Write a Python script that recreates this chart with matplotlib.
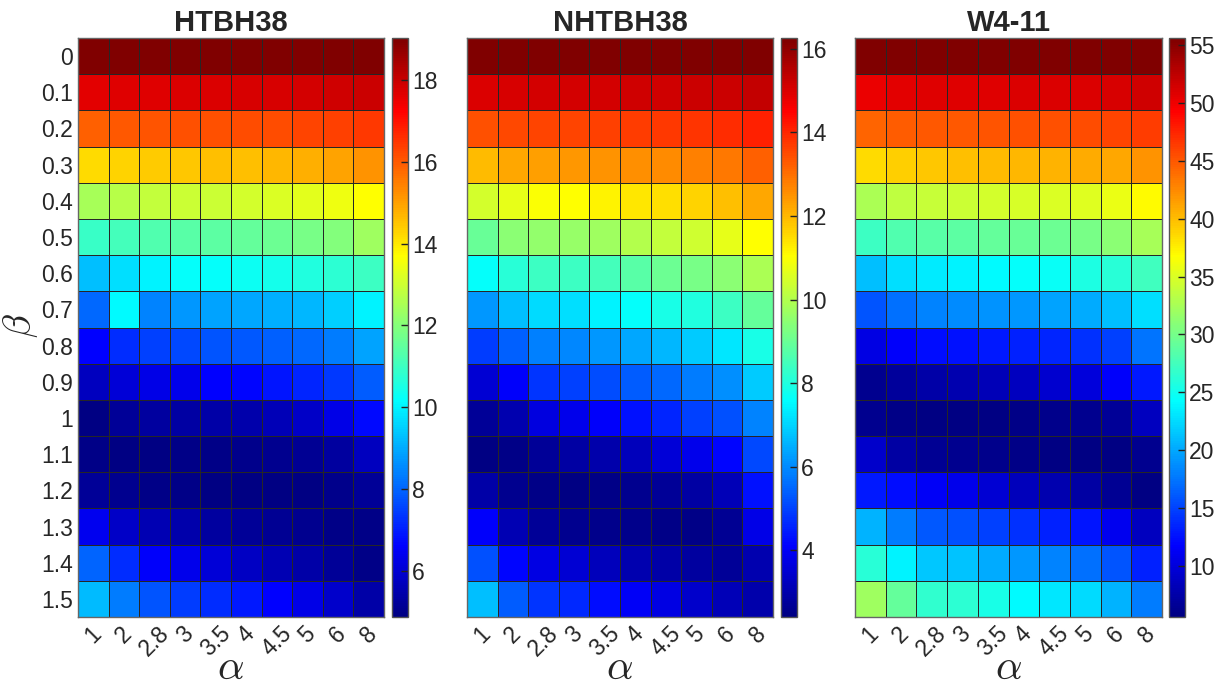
import numpy as np
import matplotlib
matplotlib.use("Agg")
import matplotlib.pyplot as plt
from matplotlib.colors import ListedColormap, Normalize

plt.rcParams['font.family'] = ['Liberation Sans', 'DejaVu Sans']
plt.rcParams['mathtext.fontset'] = 'cm'
TEXT = '#262626'

alpha_labels = ['1', '2', '2.8', '3', '3.5', '4', '4.5', '5', '6', '8']
beta_labels = ['0', '0.1', '0.2', '0.3', '0.4', '0.5', '0.6', '0.7',
               '0.8', '0.9', '1', '1.1', '1.2', '1.3', '1.4', '1.5']

htbh38 = [
    [19.0, 19.0, 19.0, 19.0, 19.0, 19.0, 19.0, 19.0, 19.0, 19.0],
    [17.6, 17.7, 17.7, 17.75, 17.75, 17.8, 17.8, 17.85, 17.9, 17.95],
    [15.9, 16.0, 16.05, 16.1, 16.15, 16.2, 16.2, 16.3, 16.35, 16.45],
    [14.2, 14.3, 14.4, 14.45, 14.55, 14.6, 14.7, 14.8, 14.95, 15.2],
    [12.5, 12.7, 12.85, 12.95, 13.0, 13.1, 13.2, 13.3, 13.45, 13.7],
    [10.95, 11.1, 11.25, 11.35, 11.45, 11.55, 11.65, 11.8, 12.0, 12.35],
    [9.27, 9.7, 9.97, 10.2, 10.2, 10.3, 10.45, 10.6, 10.75, 11.0],
    [8.03, 10.1, 8.44, 8.72, 8.86, 8.93, 9.07, 9.14, 9.5, 9.97],
    [6.64, 7.2, 7.47, 7.62, 7.76, 7.83, 7.96, 8.03, 8.3, 8.86],
    [5.74, 6.07, 6.29, 6.36, 6.6, 6.65, 6.9, 7.1, 7.4, 7.9],
    [4.9, 5.18, 5.3, 5.35, 5.4, 5.45, 5.6, 5.85, 6.3, 6.7],
    [4.95, 4.9, 4.92, 4.95, 4.97, 5.0, 5.05, 5.1, 5.3, 5.7],
    [5.2, 5.05, 4.98, 4.95, 4.92, 4.9, 4.9, 4.92, 5.0, 5.15],
    [6.4, 5.85, 5.55, 5.45, 5.3, 5.2, 5.1, 5.05, 4.98, 4.93],
    [8.0, 7.2, 6.55, 6.35, 6.05, 5.8, 5.55, 5.4, 5.2, 4.95],
    [9.2, 8.3, 7.75, 7.45, 7.2, 6.95, 6.6, 6.3, 5.9, 5.4],
]

nhtbh38 = [
    [16.26, 16.26, 16.26, 16.26, 16.26, 16.26, 16.26, 16.26, 16.26, 16.26],
    [15.0, 15.05, 15.1, 15.1, 15.12, 15.15, 15.17, 15.2, 15.22, 15.3],
    [13.4, 13.5, 13.6, 13.6, 13.65, 13.7, 13.75, 13.8, 13.9, 14.05],
    [11.95, 12.22, 12.35, 12.42, 12.5, 12.56, 12.6, 12.75, 12.85, 13.2],
    [10.45, 10.7, 11.0, 11.06, 11.2, 11.34, 11.48, 11.62, 11.88, 12.22],
    [8.96, 9.47, 9.6, 9.62, 9.75, 10.0, 10.2, 10.37, 10.7, 11.06],
    [7.6, 8.1, 8.36, 8.4, 8.5, 8.78, 9.03, 9.2, 9.45, 9.9],
    [6.17, 6.7, 7.1, 7.15, 7.4, 7.6, 7.87, 8.0, 8.36, 8.9],
    [4.9, 5.4, 5.85, 5.95, 6.15, 6.4, 6.6, 6.85, 7.25, 7.9],
    [3.5, 4.05, 4.83, 4.95, 5.15, 5.35, 5.5, 5.77, 6.05, 6.85],
    [2.7, 3.0, 3.65, 3.85, 4.05, 4.3, 4.6, 4.95, 5.2, 5.9],
    [2.42, 2.5, 2.7, 2.85, 2.95, 3.2, 3.55, 3.85, 4.15, 5.1],
    [2.9, 2.6, 2.5, 2.45, 2.48, 2.58, 2.7, 2.88, 3.15, 4.3],
    [4.05, 3.05, 2.7, 2.6, 2.55, 2.55, 2.5, 2.5, 2.65, 3.8],
    [5.2, 4.15, 3.7, 3.5, 3.2, 3.0, 2.9, 2.8, 2.72, 3.0],
    [6.7, 5.35, 4.8, 4.65, 4.25, 4.0, 3.7, 3.4, 3.15, 2.95],
]

w4_11 = [
    [55.6, 55.6, 55.6, 55.6, 55.6, 55.6, 55.6, 55.6, 55.6, 55.6],
    [50.2, 50.6, 50.8, 50.8, 50.9, 51.0, 51.0, 51.1, 51.3, 51.6],
    [44.45, 44.7, 45.0, 45.0, 45.1, 45.3, 45.4, 45.6, 45.9, 46.4],
    [38.6, 39.05, 39.5, 39.8, 40.0, 40.3, 40.5, 40.8, 41.0, 42.0],
    [32.6, 33.6, 34.1, 34.3, 34.6, 34.8, 35.0, 35.2, 35.85, 36.85],
    [27.1, 28.1, 28.6, 28.8, 29.1, 29.3, 29.5, 30.1, 31.1, 32.4],
    [21.1, 22.6, 23.35, 23.6, 24.1, 24.35, 24.7, 25.6, 26.2, 27.4],
    [15.8, 17.3, 18.2, 18.5, 19.0, 19.2, 19.7, 20.2, 21.1, 22.6],
    [10.4, 11.5, 12.4, 12.5, 12.9, 13.3, 13.5, 14.0, 14.8, 17.5],
    [6.2, 6.9, 7.5, 7.8, 8.2, 8.7, 9.4, 10.0, 11.5, 13.0],
    [6.2, 5.8, 5.75, 5.65, 5.7, 5.9, 6.0, 6.2, 6.7, 8.7],
    [9.2, 7.3, 6.5, 6.3, 6.0, 5.9, 5.75, 5.65, 5.6, 6.3],
    [13.0, 12.3, 11.3, 10.8, 9.6, 8.5, 7.8, 7.2, 6.4, 5.7],
    [20.5, 17.8, 16.0, 15.6, 14.8, 14.0, 13.4, 12.7, 11.0, 8.7],
    [26.2, 23.6, 21.6, 21.4, 20.2, 19.2, 18.2, 17.3, 15.8, 13.3],
    [32.1, 29.1, 26.6, 26.4, 25.4, 24.1, 23.1, 22.4, 20.5, 17.8],
]

titles = ['HTBH38', 'NHTBH38', 'W4-11']
ranges = [(4.87, 19.03), (2.4, 16.26), (5.6, 55.6)]
cbar_ticks = [list(range(6, 19, 2)), list(range(4, 17, 2)), list(range(10, 56, 5))]


def matlab_jet(m=256):
    """MATLAB-style jet colormap with m entries."""
    n = int(np.ceil(m / 4))
    u = np.concatenate([np.arange(1, n + 1) / n, np.ones(n - 1), np.arange(n, 0, -1) / n])
    g = int(np.ceil(n / 2)) - (1 if m % 4 == 1 else 0) + np.arange(1, len(u) + 1)
    r = g + n
    b = g - n
    cmap = np.zeros((m, 3))
    for idx, ch in ((r, 0), (g, 1), (b, 2)):
        ok = (idx >= 1) & (idx <= m)
        cmap[idx[ok] - 1, ch] = u[ok]
    return ListedColormap(cmap)


jet = matlab_jet(256)

W, H = 1228, 688
fig = plt.figure(figsize=(W / 100, H / 100), dpi=100)

def frac(x0, y0, x1, y1):
    return [x0 / W, 1 - y1 / H, (x1 - x0) / W, (y1 - y0) / H]

ax_px = [(78, 38, 384, 617), (467, 38, 773, 617), (855, 38, 1162, 617)]
cb_px = [(392, 38, 408, 617), (781, 38, 797, 617), (1169, 38, 1185, 617)]
datasets = [htbh38, nhtbh38, w4_11]

for i, data in enumerate(datasets):
    z = np.array(data)
    ax = fig.add_axes(frac(*ax_px[i]))
    norm = Normalize(vmin=ranges[i][0], vmax=ranges[i][1])
    mesh = ax.pcolormesh(np.arange(len(alpha_labels) + 1), np.arange(len(beta_labels) + 1), z,
                         cmap=jet, norm=norm, edgecolors='#262626', linewidth=0.55)
    ax.set_xlim(0, len(alpha_labels))
    ax.set_ylim(len(beta_labels), 0)
    ax.set_xticks(np.arange(len(alpha_labels)) + 0.5)
    ax.set_xticklabels(alpha_labels, rotation=45, ha='center', va='top',
                       fontsize=16.5, color=TEXT)
    ax.set_yticks(np.arange(len(beta_labels)) + 0.5)
    if i == 0:
        ax.set_yticklabels(beta_labels, fontsize=16.5, color=TEXT)
    else:
        ax.set_yticklabels([])
    ax.tick_params(length=0, pad=3.5)
    for sp in ax.spines.values():
        sp.set_color('#666666')
        sp.set_linewidth(1.0)
    ax.set_title(titles[i], fontsize=21, fontweight='bold', color=TEXT, pad=5)
    xc = (ax_px[i][0] + ax_px[i][2]) / 2
    fig.text(xc / W, 1 - 668 / H, r'$\alpha$', fontsize=30, color=TEXT,
             ha='center', va='center')

    cax = fig.add_axes(frac(*cb_px[i]))
    cb = fig.colorbar(mesh, cax=cax)
    cb.set_ticks(cbar_ticks[i])
    cb.outline.set_edgecolor('#555555')
    cb.outline.set_linewidth(1.0)
    cax.tick_params(direction='in', length=5, width=1, color='#222222',
                    labelsize=16.5, labelcolor=TEXT, pad=3)

fig.text(20 / W, 1 - 326 / H, r'$\beta$', fontsize=28, color=TEXT,
         rotation=90, ha='center', va='center')

fig.savefig('out.png', dpi=100)
